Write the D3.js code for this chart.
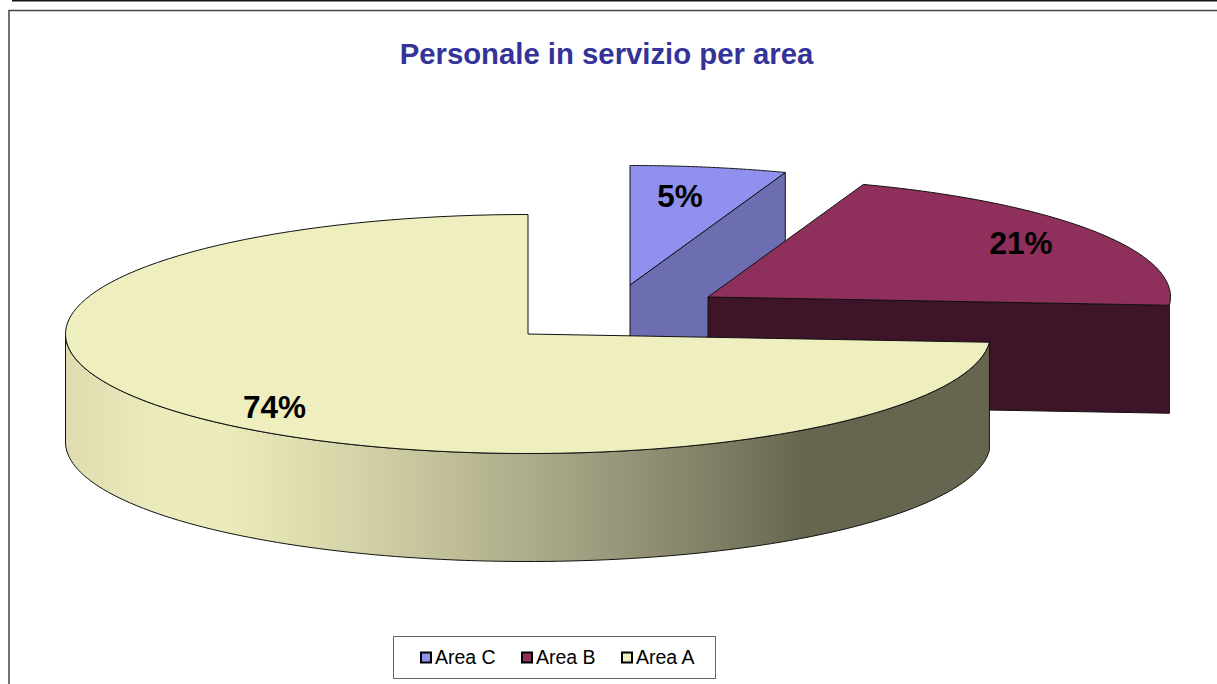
<!DOCTYPE html>
<html><head><meta charset="utf-8">
<script src="https://cdn.jsdelivr.net/npm/d3@7/dist/d3.min.js"></script>
<style>html,body{margin:0;padding:0;background:#fff}svg{display:block}text{font-family:"Liberation Sans",Arial,sans-serif}</style>
</head><body><svg id="c" width="1217" height="684"></svg>
<script>
const categories = ["Area C", "Area B", "Area A"];
const values = [5.45, 20.65, 73.9];
const topColors = ["#9090ee", "#8e2f5c", "#eeeebe"];
const sideColors = ["#6d6db2", "#3e1428", "#666650"];
const title = "Personale in servizio per area";

const W = 1217, H = 684;
const rx = 462.5, ry = 119.5, depth = 108;
const centers = [[630, 285], [708, 297], [528, 334]];
const labelPos = [[680, 207], [1021, 254], [274.5, 418]];

const svg = d3.select("#c");
const defs = svg.append("defs");
const grad = defs.append("linearGradient").attr("id", "rim").attr("gradientUnits", "userSpaceOnUse")
  .attr("x1", 66).attr("x2", 990).attr("y1", 0).attr("y2", 0);
[[0, "#dedcb0"], [0.1, "#ecebbc"], [0.17, "#ecebbc"], [0.31, "#d5d4a8"], [0.52, "#a9a888"], [0.68, "#85846a"], [0.8, "#666650"], [1, "#666650"]]
  .forEach(s => grad.append("stop").attr("offset", s[0]).attr("stop-color", s[1]));

// frame
svg.append("line").attr("x1", 12).attr("x2", W).attr("y1", 0).attr("y2", 0).attr("stroke", "#111").attr("stroke-width", 3);
svg.append("path").attr("d", `M${W},10.5H9V${H}`).attr("fill", "none").attr("stroke", "#444").attr("stroke-width", 1.5);

svg.append("text").attr("x", 606.5).attr("y", 64).attr("text-anchor", "middle")
  .attr("font-size", 29.3).attr("font-weight", "bold").attr("fill", "#333399").text(title);

const arcs = d3.pie().sort(null).value(d => d)(values);
const pt = (a, c, dz = 0) => [c[0] + rx * Math.sin(a), c[1] - ry * Math.cos(a) + dz];
const line = d3.line();
const arcPts = (a0, a1, c, dz = 0) => d3.range(0, 121).map(i => pt(a0 + (a1 - a0) * i / 120, c, dz));

arcs.forEach((d, i) => {
  const c = centers[i], g = svg.append("g");
  const a0 = d.startAngle, a1 = d.endAngle;
  if (i < 2) {
    // cut face at the clockwise end of the slice, extruded downward
    const p = pt(a1, c);
    g.append("path").attr("d", line([c, p, [p[0], p[1] + depth], [c[0], c[1] + depth]]) + "Z")
      .attr("fill", sideColors[i]).attr("stroke", "#111").attr("stroke-width", 1);
  } else {
    // visible front rim
    const end = Math.PI * 1.5;
    const topEdge = arcPts(a0, end, c);
    const botEdge = arcPts(end, a0, c, depth);
    g.append("path").attr("d", line(topEdge.concat(botEdge)) + "Z")
      .attr("fill", "url(#rim)").attr("stroke", "#111").attr("stroke-width", 1);
  }
  g.append("path").attr("d", line([c].concat(arcPts(a0, a1, c))) + "Z")
    .attr("fill", topColors[i]).attr("stroke", "#111").attr("stroke-width", 1);
});

arcs.forEach((d, i) => {
  svg.append("text").attr("x", labelPos[i][0]).attr("y", labelPos[i][1]).attr("text-anchor", "middle")
    .attr("font-size", 31.5).attr("font-weight", "bold").attr("fill", "#000")
    .text(Math.round(d.data) + "%");
});

// legend
svg.append("rect").attr("x", 393.5).attr("y", 636.5).attr("width", 322).attr("height", 42)
  .attr("fill", "#fff").attr("stroke", "#666").attr("stroke-width", 1);
const legendX = [421, 522, 622];
categories.forEach((name, i) => {
  svg.append("rect").attr("x", legendX[i]).attr("y", 652.5).attr("width", 10).attr("height", 10)
    .attr("fill", topColors[i]).attr("stroke", "#000").attr("stroke-width", 2);
  svg.append("text").attr("x", legendX[i] + 14).attr("y", 664).attr("font-size", 19.5).attr("fill", "#000").text(name);
});
</script></body></html>
